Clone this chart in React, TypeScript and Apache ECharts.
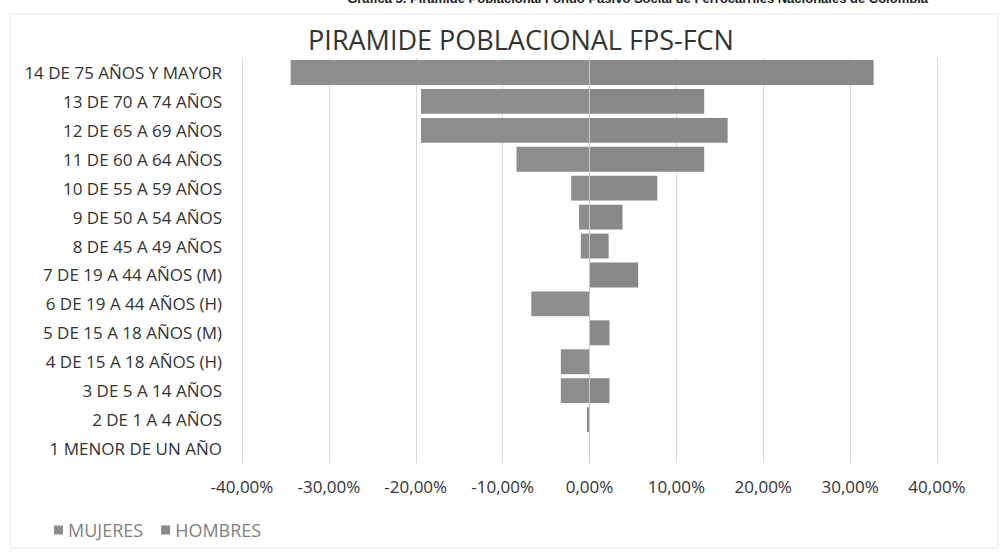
import React, { useEffect, useRef } from "react";
import * as echarts from "echarts";

const categories = [
  "1 MENOR DE UN AÑO",
  "2 DE 1 A 4 AÑOS",
  "3 DE 5 A 14 AÑOS",
  "4 DE 15 A 18 AÑOS (H)",
  "5 DE 15 A 18 AÑOS (M)",
  "6 DE 19 A 44 AÑOS (H)",
  "7 DE 19 A 44 AÑOS (M)",
  "8 DE 45 A 49 AÑOS",
  "9 DE 50 A 54 AÑOS",
  "10 DE 55 A 59 AÑOS",
  "11 DE 60 A 64 AÑOS",
  "12 DE 65 A 69 AÑOS",
  "13 DE 70 A 74 AÑOS",
  "14 DE 75 AÑOS Y MAYOR",
];

const mujeres = [0, -0.3, -3.3, -3.3, 0, -6.7, 0, -1.0, -1.2, -2.1, -8.4, -19.4, -19.4, -34.4];
const hombres = [0, 0, 2.3, 0, 2.3, 0, 5.6, 2.2, 3.8, 7.8, 13.2, 15.9, 13.2, 32.7];

const seriesNames = ["MUJERES", "HOMBRES"];
const chartTitle = "PIRAMIDE POBLACIONAL FPS-FCN";
const headerText =
  "Gráfica 3. Pirámide Poblacional Fondo Pasivo Social de Ferrocarriles Nacionales de Colombia";

const fmt = (v: number) => v.toFixed(2).replace(".", ",") + "%";

export default function App() {
  const ref = useRef<HTMLDivElement>(null);
  useEffect(() => {
    if (!ref.current) return;
    const chart = echarts.init(ref.current, undefined, { renderer: "svg" });
    const font = "Open Sans";
    chart.setOption({
      animation: false,
      backgroundColor: "#ffffff",
      textStyle: { fontFamily: font },
      title: {
        text: chartTitle,
        left: 516,
        top: 21,
        textAlign: "center",
        textStyle: { fontFamily: font, fontSize: 27, fontWeight: "normal", color: "#333333" },
      },
      graphic: [
        {
          type: "rect",
          shape: { x: 10, y: 14, width: 988, height: 534 },
          style: { fill: "none", stroke: "#e6e6e6", lineWidth: 1 },
          silent: true,
        },
        {
          type: "text",
          x: 928,
          y: 5,
          style: {
            text: headerText,
            align: "right",
            verticalAlign: "bottom",
            font: "bold 13px 'Liberation Sans'",
            fill: "#222",
          },
          silent: true,
        },
      ],
      legend: {
        left: 49,
        top: 516,
        itemWidth: 9,
        itemHeight: 9,
        itemGap: 18,
        icon: "rect",
        textStyle: { fontFamily: font, fontSize: 18, color: "#808080" },
        data: seriesNames,
      },
      grid: { left: 242, right: 65, top: 58, bottom: 89, containLabel: false },
      xAxis: {
        type: "value",
        min: -40,
        max: 40,
        interval: 10,
        axisLine: { show: false },
        axisTick: { show: false },
        splitLine: { show: true, lineStyle: { color: "#d9d9d9", width: 1 } },
        axisLabel: {
          formatter: fmt,
          fontFamily: font,
          fontSize: 17,
          color: "#333333",
          margin: 15,
        },
      },
      yAxis: {
        type: "category",
        data: categories,
        axisLine: { show: false },
        axisTick: { show: false },
        axisLabel: { fontFamily: font, fontSize: 17, color: "#333333", margin: 20 },
      },
      series: [
        {
          name: seriesNames[0],
          type: "bar",
          stack: "total",
          data: mujeres,
          barCategoryGap: "14%",
          itemStyle: { color: "#8d8d8d" },
          markLine: {
            silent: true,
            symbol: "none",
            label: { show: false },
            lineStyle: { color: "#c8c8c8", type: "solid", width: 1 },
            data: [{ xAxis: 0 }],
          },
        },
        {
          name: seriesNames[1],
          type: "bar",
          stack: "total",
          data: hombres,
          barCategoryGap: "14%",
          itemStyle: { color: "#888888" },
        },
      ],
    });
    return () => chart.dispose();
  }, []);
  return (
    <div
      ref={ref}
      style={{ position: "absolute", left: 0, top: 0, width: 1002, height: 552 }}
    />
  );
}
